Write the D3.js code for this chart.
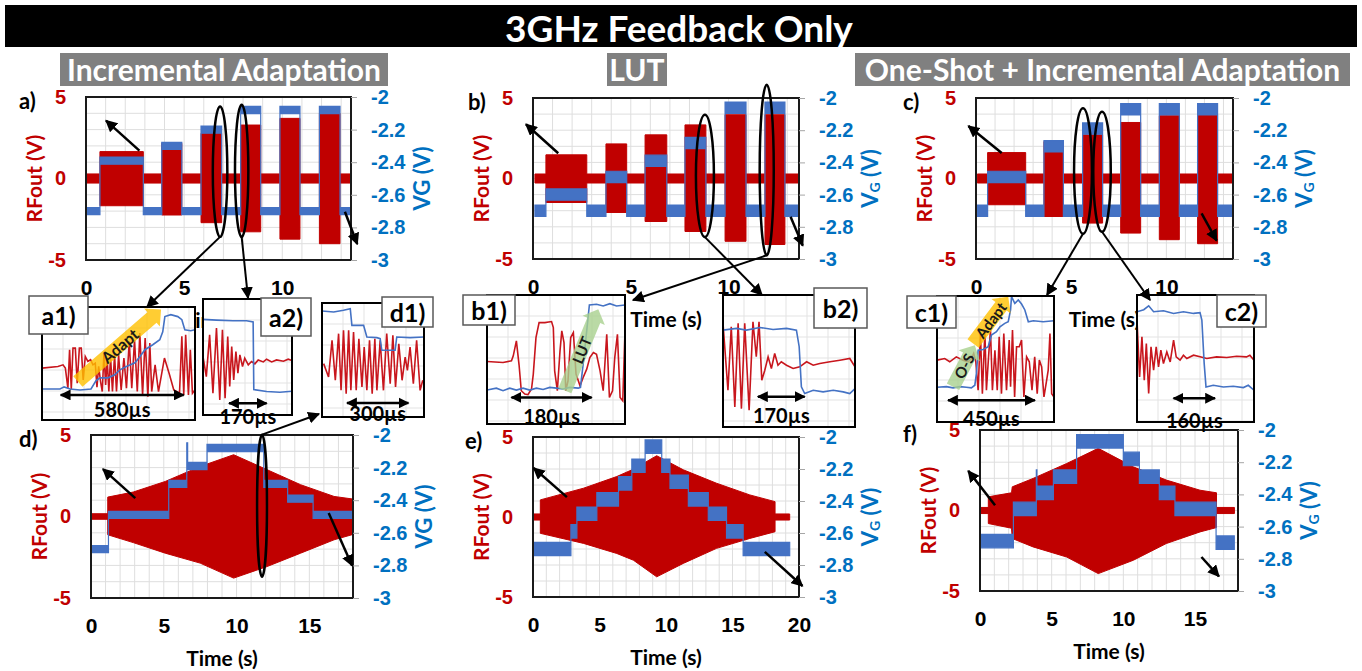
<!DOCTYPE html>
<html><head><meta charset="utf-8">
<script src="https://cdn.jsdelivr.net/npm/d3@7"></script>
<style>
  body { margin: 0; background: #fff; }
  svg { display: block; font-family: Lato, "Open Sans", sans-serif; font-weight: 700; }
</style></head>
<body>
<svg id="fig" width="1362" height="671"></svg>
<script>
// ---------- axis ticks ----------
const rfTicks = [-5, 0, 5];
const vgTicks = [-3, -2.8, -2.6, -2.4, -2.2, -2];
const timeTicksTop = [0, 5, 10];
const timeTicksD = [0, 5, 10, 15];
const timeTicksE = [0, 5, 10, 15, 20];
const timeTicksF = [0, 5, 10, 15];

// ---------- burst tests (a, b, c) ----------
// idle RF: [start s, end s, half-swing V]; idle VG: [start s, end s, VG V]
// bursts: [start s, end s, RF top V, RF bottom V, VG V]
const aRfIdle = [0, 13.5, 0.28];
const aVgIdle = [0, 13.5, -2.70];
const aBursts = [[0.71, 2.92, 1.65, -1.67, -2.39], [3.86, 4.88, 2.16, -2.24, -2.30], [5.86, 6.91, 2.77, -2.71, -2.20],
                 [7.88, 8.90, 3.28, -3.27, -2.08], [9.88, 10.9, 3.69, -3.72, -2.08], [11.89, 12.94, 4.0, -4.0, -2.08]];
const bRfIdle = [0.1, 13.6, 0.28];
const bVgIdle = [0.1, 13.6, -2.70];
const bBursts = [[0.66, 2.75, 1.47, -1.49, -2.60], [3.73, 4.79, 2.15, -2.11, -2.49], [5.73, 6.84, 2.71, -2.67, -2.39],
                 [7.77, 8.84, 3.33, -3.29, -2.28], [9.82, 10.89, 3.96, -3.90, -2.06], [11.86, 12.88, 3.96, -4.10, -2.06]];
const cRfIdle = [0.07, 13.5, 0.28];
const cVgIdle = [0.07, 13.5, -2.70];
const cBursts = [[0.61, 2.61, 1.61, -1.63, -2.49], [3.57, 4.59, 2.30, -2.36, -2.30], [5.60, 6.65, 2.71, -2.77, -2.19],
                 [7.60, 8.65, 3.48, -3.39, -2.07], [9.63, 10.68, 3.90, -3.80, -2.07], [11.64, 12.69, 3.96, -4.05, -2.07]];

// ---------- ramp tests (d, e, f) ----------
// idle RF: [start s, end s, half-swing V]; envelope: [t s, top V, bottom V]; gate: [start s, end s, VG V]
const dRfIdle = [[0, 1.15, 0.17]];
const dEnvelope = [[1.15, 1.19, -1.12], [2.9, 1.5, -1.6], [5.1, 2.15, -2.25], [7.5, 3.07, -2.86], [9.8, 3.79, -3.78],
                   [12.1, 2.87, -3.07], [14.4, 1.95, -2.25], [16.7, 1.23, -1.43], [18, 1.07, -1.1]];
const dGate = [[0, 1.2, -2.70], [1.2, 5.34, -2.49], [5.34, 6.58, -2.30], [6.58, 6.64, -2.07], [6.64, 7.97, -2.19],
               [7.97, 11.87, -2.08], [11.87, 13.51, -2.30], [13.51, 15.26, -2.39], [15.26, 18, -2.49]];
const eRfIdle = [[0, 0.55, 0.19], [18.2, 19.3, 0.19]];
const eEnvelope = [[0.55, 1.07, -1.02], [3.8, 1.8, -1.65], [6.3, 2.53, -2.28], [7.55, 2.99, -2.7], [9.3, 3.83, -3.74],
                   [11.3, 2.95, -2.9], [13.8, 2.11, -1.96], [16.3, 1.38, -1.34], [18.2, 0.96, -0.92]];
const eGate = [[0, 2.85, -2.70], [2.85, 3.3, -2.59], [3.3, 4.8, -2.48], [4.8, 6.43, -2.39], [6.43, 7.43, -2.29],
               [7.43, 8.43, -2.18], [8.43, 9.68, -2.06], [9.68, 10.3, -2.18], [10.3, 11.68, -2.28], [11.68, 13.18, -2.39],
               [13.18, 14.55, -2.48], [14.55, 15.8, -2.59], [15.8, 19.3, -2.70]];
const fRfIdle = [[0, 0.58, 0.19], [16.5, 17.75, 0.19]];
const fEnvelope = [[0.58, 0.85, -0.81], [2.2, 1.1, -1.1], [2.25, 1.47, -1.74], [3.7, 1.99, -2.26], [6.05, 2.92, -2.89],
                   [8.25, 3.86, -3.92], [10.7, 2.71, -3.09], [13, 1.89, -2.05], [15.35, 1.26, -1.33], [16.5, 1.1, -1.06]];
const fGate = [[0, 2.33, -2.69], [2.33, 3.93, -2.49], [3.93, 3.97, -2.29], [3.97, 5.12, -2.39], [5.12, 6.74, -2.29],
               [6.74, 10, -2.07], [10, 11.12, -2.18], [11.12, 12.51, -2.29], [12.51, 13.6, -2.39], [13.6, 16.47, -2.49],
               [16.47, 17.74, -2.70]];

// ---------- zoomed captures: [time µs, level % of screen] ----------
const a1Vg = [[0,27.5],[85,27.5],[104,29.3],[132,27.5],[179,26.6],[231,27.5],[254,34.6],[273,37.3],[311,37.3],[343,40],[367,44.4],[395,47.1],[438,50.6],[461,55.9],[485,62.2],[522,66.6],[555,71],[569,78.1],[579,91.5],[607,93.2],[640,91.5],[659,88.8],[673,79.9],[701,79],[721,79.9]];
const a1Rf = [[0,45.9],[75,47.4],[99,48.8],[110,45.9],[122,28.1],[130,62.2],[138,27.2],[146,63.6],[157,63.6],[166,32.6],[176,63.6],[185,63.6],[194,35.5],[204,56.2],[216,51.8],[229,53.3],[240,48.8],[251,50.3],[259,29],[267,47.4],[276,34],[284,25.2],[292,59.2],[300,31.1],[307,54.8],[315,25.2],[323,56.2],[332,25.2],[342,57.7],[351,25.2],[361,57.7],[373,26.6],[386,54.8],[398,28.1],[411,69.6],[423,28.1],[436,71],[449,25.2],[461,77],[474,22.2],[486,72.5],[499,20.7],[508,68.1],[517,25.2],[533,48.8],[549,25.2],[577,54.8],[601,40],[621,26.6],[648,23.7],[659,74],[668,22.2],[677,75.5],[690,22.2],[699,62.2],[709,23.7],[721,26.6]];
const a2Vg = [[0,82.4],[61,81.8],[136,81.2],[197,81.2],[227,80.3],[230,21.9],[288,20.2],[348,19.6],[403,20.5]];
const a2Rf = [[0,50.4],[15,33.1],[30,69.1],[45,18.7],[61,74.9],[76,13],[88,73.4],[100,14.4],[112,67.7],[121,24.5],[130,59],[139,30.2],[149,54.7],[158,36],[167,51.8],[179,41.8],[189,49],[205,43.2],[220,46.1],[235,44.1],[250,47.5],[273,45.8],[288,48.1],[311,45.8],[333,47.5],[364,46.4],[386,48.1],[403,46.9]];
const d1Vg = [[0,93],[57,92.1],[105,93.6],[138,95],[146,80.4],[203,80.4],[219,70.2],[268,69.6],[284,68.7],[292,58.5],[357,58.5],[365,70.2],[430,69.6],[498,70.2]];
const d1Rf = [[8,46.8],[32,35.1],[49,67.3],[65,32.2],[81,73.1],[93,23.4],[105,76],[118,20.5],[130,76],[141,23.4],[154,74.6],[167,23.4],[180,68.7],[195,26.3],[206,61.4],[219,23.4],[232,67.3],[245,20.5],[258,68.7],[268,23.4],[284,67.3],[300,23.4],[316,73.1],[333,29.2],[346,71.6],[359,26.3],[375,64.3],[391,32.2],[406,52.6],[417,40.9],[430,61.4],[446,29.2],[462,67.3],[479,23.4],[492,32.2]];
const b1Vg = [[0,26.3],[21,27.8],[36,25.8],[51,27.8],[66,26.3],[81,27.8],[96,26.3],[111,27.8],[126,26.8],[141,28.4],[156,27.8],[171,27.1],[186,28.4],[205,27.8],[210,28.4],[216,46.4],[224,72.2],[230,92.3],[246,92.8],[261,91.5],[276,93.3],[291,91.5],[310,92.3]];
const b1Rf = [[0,48.4],[36,47.7],[55,49],[59,52.8],[66,64.4],[72,45.9],[77,25.8],[85,23.2],[92,22.7],[100,27.1],[104,38.7],[110,67],[117,78.6],[130,78.6],[145,79.4],[149,74.7],[152,41.2],[158,25.8],[164,56.7],[168,72.2],[173,63.1],[177,25.8],[182,33.5],[188,67],[194,70.9],[200,38.7],[209,29.6],[216,36.1],[224,42.5],[231,51.5],[239,55.4],[246,54.1],[254,41.2],[261,25.8],[269,69.6],[275,20.6],[282,25.8],[287,51.5],[293,69.6],[299,20.6],[305,18],[310,72.2]];
const b2Vg = [[0,73.4],[49,74.7],[85,73.4],[134,75.4],[182,73.9],[231,74.7],[267,73.4],[277,60.8],[285,30.4],[297,25.3],[328,27.8],[364,26.6],[401,27.8],[437,26.6],[461,25.3],[480,29.1]];
const b2Rf = [[0,78.5],[18,27.8],[30,75.9],[43,15.2],[55,78.5],[67,13.9],[79,78.5],[95,12.7],[109,79.7],[121,53.2],[131,79.7],[141,35.4],[152,43],[164,53.2],[176,44.3],[188,55.7],[200,46.8],[212,49.4],[231,46.8],[255,44.3],[279,45.6],[304,49.4],[328,46.8],[352,48.1],[389,49.4],[425,50.6],[461,51.9],[480,45.6]];
const c1Vg = [[0,27.6],[49,28.1],[83,27.1],[118,28.1],[152,27.6],[178,27.1],[196,29.2],[204,38.5],[213,57],[239,57.6],[265,59.7],[282,69],[308,71.6],[326,75.6],[351,78.3],[369,79.6],[381,88.9],[386,99.5],[403,94.2],[421,96.8],[438,93.6],[455,88.9],[473,79.6],[499,80.4],[550,79.6],[606,80.4]];
const c1Rf = [[0,49.1],[40,50.4],[66,47.8],[100,51.7],[135,49.1],[161,47.8],[178,50.4],[190,54.4],[201,47.8],[213,25.2],[225,70.3],[235,22.5],[248,71.6],[256,25.2],[267,51.7],[277,73],[287,25.2],[300,57],[312,25.2],[322,67.7],[334,22.5],[346,70.3],[360,25.2],[374,65],[381,27.9],[391,73],[402,19.9],[412,59.7],[426,59.7],[438,65],[450,19.9],[464,51.7],[478,47.8],[492,25.2],[506,51.7],[519,22.5],[530,49.1],[542,43.8],[554,19.9],[568,33.2],[576,41.1],[585,70.3],[594,22.5],[606,19.9]];
const c2Vg = [[0,86.8],[26,88.4],[45,91.5],[64,86.8],[102,87.6],[141,85.5],[179,86.8],[218,85.5],[243,86.1],[250,80.3],[259,46],[266,27.6],[294,28.9],[333,27.6],[371,28.1],[410,27.1],[429,28.9],[451,25]];
const c2Rf = [[0,80.2],[10,35.5],[19,67.1],[28,32.9],[36,61.8],[45,22.4],[54,59.2],[64,40.8],[74,59.2],[83,43.4],[92,56.6],[102,46],[115,55.2],[128,47.3],[141,64.4],[151,51.3],[166,48.7],[179,52.6],[192,50],[218,52.6],[243,51.3],[269,50],[307,51.3],[346,50.8],[384,51.8],[422,51.3],[435,52.6],[451,48.7]];
// settling spans: [start µs, duration µs]
const a1Span = [88, 580], a2Span = [118, 170], d1Span = [122, 300];
const b1Span = [55, 180], b2Span = [127, 170], c1Span = [57, 450], c2Span = [141, 160];

// ---------- helpers ----------
const RED = "#c00000", BLUE = "#4472c4", RED_TXT = "#c00000", BLUE_TXT = "#0070c0";
const svg = d3.select("#fig");
const defs = svg.append("defs");
function addMarker(id, size) {
  defs.append("marker").attr("id", id).attr("viewBox", "0 0 10 10").attr("refX", 9).attr("refY", 5)
    .attr("markerWidth", size).attr("markerHeight", size).attr("markerUnits", "userSpaceOnUse")
    .attr("orient", "auto-start-reverse")
    .append("path").attr("d", "M0,0L10,5L0,10z").attr("fill", "#000");
}
addMarker("head", 12);
addMarker("headS", 11);

function burstRf(idle, bursts) {
  const pts = []; let t = idle[0]; const a = idle[2];
  bursts.forEach(b => {
    pts.push({t, hi: a, lo: -a}, {t: b[0], hi: a, lo: -a}, {t: b[0], hi: b[2], lo: b[3]}, {t: b[1], hi: b[2], lo: b[3]});
    t = b[1];
  });
  pts.push({t, hi: a, lo: -a}, {t: idle[1], hi: a, lo: -a});
  return [pts];
}
function burstVg(idle, bursts) {
  const pts = []; let t = idle[0];
  bursts.forEach(b => {
    pts.push({t, v: idle[2]}, {t: b[0], v: idle[2]}, {t: b[0], v: b[4]}, {t: b[1], v: b[4]});
    t = b[1];
  });
  pts.push({t, v: idle[2]}, {t: idle[1], v: idle[2]});
  return pts;
}
function rampRf(idle, env) {
  const pieces = idle.map(s => [{t: s[0], hi: s[2], lo: -s[2]}, {t: s[1], hi: s[2], lo: -s[2]}]);
  pieces.push(env.map(e => ({t: e[0], hi: e[1], lo: e[2]})));
  return pieces;
}
function stepVg(segs) { return segs.flatMap(s => [{t: s[0], v: s[2]}, {t: s[1], v: s[2]}]); }

const panels = [
  {key: "a", letter: "a)", letterX: 19, box: [86, 97, 351, 260], tmax: 13.5, tTicks: timeTicksTop, sub: false, vgHalf: 0.022,
   rf: burstRf(aRfIdle, aBursts), vg: burstVg(aVgIdle, aBursts),
   rings: [[6.83, 0.42, 0.37, 4.0, "bottom", [147, 307]], [7.93, 0.47, 0.34, 4.05, "bottom", [248, 298]]],
   pointers: [[2.72, 1.71, 1.02, 3.55], [13.19, -2.04, 13.82, -4.02]]},
  {key: "b", letter: "b)", letterX: 468, box: [533, 98, 799, 259], tmax: 13.6, tTicks: timeTicksTop, sub: true, vgHalf: 0.035,
   rf: burstRf(bRfIdle, bBursts), vg: burstVg(bVgIdle, bBursts),
   rings: [[8.79, 0.16, 0.46, 3.8, "bottom", [762, 295]], [11.95, 0.53, 0.36, 5.3, "bottom", [633, 300]]],
   pointers: [[1.29, 1.57, -0.36, 3.37], [13.17, -2.37, 13.79, -4.17]]},
  {key: "c", letter: "c)", letterX: 903, box: [976, 98, 1233, 259], tmax: 13.5, tTicks: timeTicksTop, sub: true, vgHalf: 0.035,
   rf: burstRf(cRfIdle, cBursts), vg: burstVg(cVgIdle, cBursts),
   rings: [[5.62, 0.47, 0.47, 3.9, "bottom", [1047, 295]], [6.62, 0.42, 0.46, 3.73, "bottom", [1150, 300]]],
   pointers: [[1.35, 1.58, -0.4, 3.26], [11.85, -2.16, 12.64, -3.86]]},
  {key: "d", letter: "d)", letterX: 19, box: [91, 435, 353, 598], tmax: 18, tTicks: timeTicksD, sub: false, vgHalf: 0.022,
   rf: rampRf(dRfIdle, dEnvelope), vg: stepVg(dGate),
   rings: [[11.75, 0.66, 0.34, 4.36, "top", [319, 414]]],
   pointers: [[3.04, 1.13, 0.82, 2.91], [16.33, 0.21, 17.94, -3.02]]},
  {key: "e", letter: "e)", letterX: 465, box: [533, 437, 799, 597], tmax: 20, tTicks: timeTicksE, sub: true, vgHalf: 0.042,
   rf: rampRf(eRfIdle, eEnvelope), vg: stepVg(eGate), rings: [],
   pointers: [[2.55, 1.24, 0.05, 3.06], [17.43, -2.18, 20.26, -4.31]]},
  {key: "f", letter: "f)", letterX: 903, box: [980, 430, 1238, 591], tmax: 18, tTicks: timeTicksF, sub: true, vgHalf: 0.042,
   rf: rampRf(fRfIdle, fEnvelope), vg: stepVg(fGate), rings: [],
   pointers: [[1.05, 0.33, -0.82, 2.46], [15.45, -2.89, 16.67, -4.09]]}
];

const insets = [
  {key: "a1", box: [42, 307, 195, 420], tmax: 721, red: a1Rf, blue: a1Vg, span: a1Span, spanV: 22.2, labDy: 14,
   label: "a1)", labelBox: [29, 296, 88, 334],
   fat: [{from: [169, 34], to: [561, 97.7], fill: "#ffc000", text: "Adapt", size: 16}]},
  {key: "a2", box: [203, 299, 292, 415], tmax: 403, red: a2Rf, blue: a2Vg, span: a2Span, spanV: 10.1, labDy: 13,
   label: "a2)", labelBox: [261, 298, 311, 336], fat: []},
  {key: "d1", box: [322, 303, 424, 417], tmax: 498, red: d1Rf, blue: d1Vg, span: d1Span, spanV: 12.3, labDy: 10,
   label: "d1)", labelBox: [382, 297, 433, 327], fat: []},
  {key: "b1", box: [487, 295, 625, 424], tmax: 310, red: b1Rf, blue: b1Vg, span: b1Span, spanV: 20.6, labDy: 19,
   label: "b1)", labelBox: [463, 295, 515, 325],
   fat: [{from: [175, 25.8], to: [250, 88.9], fill: "#a9d18e", text: "LUT", size: 15}]},
  {key: "b2", box: [723, 295, 855, 427], tmax: 480, red: b2Rf, blue: b2Vg, span: b2Span, spanV: 23, labDy: 18,
   label: "b2)", labelBox: [814, 288, 867, 328], fat: []},
  {key: "c1", box: [937, 296, 1054, 422], tmax: 606, red: c1Rf, blue: c1Vg, span: c1Span, spanV: 17.3, labDy: 18,
   label: "c1)", labelBox: [907, 296, 956, 328],
   fat: [{from: [83, 28], to: [196, 61], fill: "#a9d18e", text: "O-S", size: 15},
         {from: [187, 62.3], to: [369, 99.5], fill: "#ffc000", text: "Adapt", size: 15}]},
  {key: "c2", box: [1137, 295, 1254, 422], tmax: 451, red: c2Rf, blue: c2Vg, span: c2Span, spanV: 18.7, labDy: 22,
   label: "c2)", labelBox: [1217, 295, 1266, 327], fat: []}
];

// ---------- heading ----------
svg.append("rect").attr("x", 5).attr("y", 5).attr("width", 1352).attr("height", 42).attr("fill", "#000");
svg.append("text").attr("x", 679).attr("y", 27).attr("text-anchor", "middle").attr("dominant-baseline", "central")
  .attr("fill", "#fff").attr("font-size", 37).text("3GHz Feedback Only");
[[60, 388, "Incremental Adaptation"], [607, 667, "LUT"], [855, 1350, "One-Shot + Incremental Adaptation"]].forEach(([x0, x1, t]) => {
  svg.append("rect").attr("x", x0).attr("y", 53).attr("width", x1 - x0).attr("height", 33).attr("fill", "#808080");
  svg.append("text").attr("x", (x0 + x1) / 2).attr("y", 69).attr("text-anchor", "middle").attr("dominant-baseline", "central")
    .attr("fill", "#fff").attr("font-size", 30).text(t);
});

// ---------- main panels ----------
const connectors = [];
panels.forEach(p => {
  const [x0, y0, x1, y1] = p.box;
  const x = d3.scaleLinear().domain([0, p.tmax]).range([x0, x1]);
  const rf = d3.scaleLinear().domain([-5, 5]).range([y1, y0]);
  const vg = d3.scaleLinear().domain([-3, -2]).range([y1, y0]);
  const g = svg.append("g").attr("class", "panel-" + p.key);
  defs.append("clipPath").attr("id", "clip-" + p.key).append("rect")
    .attr("x", x0).attr("y", y0).attr("width", x1 - x0).attr("height", y1 - y0);

  g.append("rect").attr("x", x0).attr("y", y0).attr("width", x1 - x0).attr("height", y1 - y0).attr("fill", "#fff");
  const grid = g.append("g").attr("stroke", "#dedede").attr("stroke-width", 1);
  grid.selectAll(".gx").data(d3.range(1, Math.ceil(p.tmax))).join("line")
    .attr("x1", d => x(d)).attr("x2", d => x(d)).attr("y1", y0).attr("y2", y1);
  grid.selectAll(".gy").data(d3.range(-4, 5)).join("line")
    .attr("x1", x0).attr("x2", x1).attr("y1", d => rf(d)).attr("y2", d => rf(d));

  const plot = g.append("g").attr("clip-path", `url(#clip-${p.key})`);
  const rfArea = d3.area().x(d => x(d.t)).y0(d => rf(d.lo)).y1(d => rf(d.hi));
  plot.selectAll(".rf").data(p.rf).join("path").attr("d", rfArea)
    .attr("fill", RED).attr("stroke", RED).attr("stroke-width", 1);
  const vgArea = d3.area().x(d => x(d.t)).y0(d => vg(d.v - p.vgHalf)).y1(d => vg(d.v + p.vgHalf));
  plot.append("path").datum(p.vg).attr("d", vgArea).attr("fill", BLUE).attr("stroke", BLUE).attr("stroke-width", 1.2);

  g.append("rect").attr("x", x0).attr("y", y0).attr("width", x1 - x0).attr("height", y1 - y0)
    .attr("fill", "none").attr("stroke", "#1a1a1a").attr("stroke-width", 2);

  // axes
  const ax = g.append("g").attr("transform", `translate(${x0},0)`)
    .call(d3.axisLeft(rf).tickValues(rfTicks).tickSize(0).tickPadding(20).tickFormat(String));
  ax.select(".domain").remove();
  ax.selectAll("text").attr("fill", RED_TXT).attr("font-size", 20).attr("font-family", null).attr("font-weight", 700);
  const ay = g.append("g").attr("transform", `translate(${x1},0)`)
    .call(d3.axisRight(vg).tickValues(vgTicks).tickSize(6).tickPadding(14).tickFormat(String));
  ay.select(".domain").remove();
  ay.selectAll("line").attr("stroke", "#a6a6a6");
  ay.selectAll("text").attr("fill", BLUE_TXT).attr("font-size", 20).attr("font-family", null).attr("font-weight", 700);
  const axb = g.append("g").attr("transform", `translate(0,${y1})`)
    .call(d3.axisBottom(x).tickValues(p.tTicks).tickSize(0).tickPadding(20).tickFormat(String));
  axb.select(".domain").remove();
  axb.selectAll("text").attr("fill", "#000").attr("font-size", 21).attr("font-family", null).attr("font-weight", 700);

  g.append("text").attr("x", (x0 + x1) / 2).attr("y", y1 + 59).attr("text-anchor", "middle")
    .attr("dominant-baseline", "central").attr("font-size", 21).text("Time (s)");
  g.append("text").attr("transform", `translate(${x0 - 53},${(y0 + y1) / 2}) rotate(-90)`)
    .attr("text-anchor", "middle").attr("dominant-baseline", "central").attr("fill", RED_TXT).attr("font-size", 21)
    .text("RFout (V)");
  const vt = g.append("text").attr("transform", `translate(${x1 + 70},${(y0 + y1) / 2}) rotate(-90)`)
    .attr("text-anchor", "middle").attr("dominant-baseline", "central").attr("fill", BLUE_TXT).attr("font-size", 22);
  if (p.sub) {
    vt.append("tspan").text("V");
    vt.append("tspan").attr("font-size", 14).attr("dy", 5).text("G");
    vt.append("tspan").attr("dy", -5).text(" (V)");
  } else vt.text("VG (V)");
  g.append("text").attr("x", p.letterX).attr("y", y0 + 3).attr("dominant-baseline", "central")
    .attr("font-size", 22).attr("fill", "#000").text(p.letter);

  // callouts
  p.pointers.forEach(q => {
    g.append("line").attr("x1", x(q[0])).attr("y1", rf(q[1])).attr("x2", x(q[2])).attr("y2", rf(q[3]))
      .attr("stroke", "#000").attr("stroke-width", 2.5).attr("marker-end", "url(#head)");
  });
  p.rings.forEach(r => {
    const cx = x(r[0]), cy = rf(r[1]);
    const rx = x(r[0] + r[2]) - cx, ry = cy - rf(r[1] + r[3]);
    g.append("ellipse").attr("cx", cx).attr("cy", cy).attr("rx", rx).attr("ry", ry)
      .attr("fill", "none").attr("stroke", "#000").attr("stroke-width", 2.5);
    connectors.push([cx, r[4] === "bottom" ? cy + ry : cy - ry, r[5][0], r[5][1]]);
  });
});

// ---------- zoomed captures ----------
function fatArrow(p1, p2, w, hw, hl) {
  const dx = p2[0] - p1[0], dy = p2[1] - p1[1], L = Math.hypot(dx, dy);
  const ux = dx / L, uy = dy / L, nx = -uy, ny = ux;
  const bx = p2[0] - ux * hl, by = p2[1] - uy * hl;
  const pts = [[p1[0] + nx * w, p1[1] + ny * w], [bx + nx * w, by + ny * w], [bx + nx * hw, by + ny * hw], p2,
               [bx - nx * hw, by - ny * hw], [bx - nx * w, by - ny * w], [p1[0] - nx * w, p1[1] - ny * w]];
  return "M" + pts.map(p => p.join(",")).join("L") + "Z";
}
insets.forEach(s => {
  const [x0, y0, x1, y1] = s.box;
  const x = d3.scaleLinear().domain([0, s.tmax]).range([x0, x1]);
  const y = d3.scaleLinear().domain([0, 100]).range([y1, y0]);
  const g = svg.append("g").attr("class", "inset-" + s.key);
  defs.append("clipPath").attr("id", "clip-" + s.key).append("rect")
    .attr("x", x0).attr("y", y0).attr("width", x1 - x0).attr("height", y1 - y0);
  g.append("rect").attr("x", x0).attr("y", y0).attr("width", x1 - x0).attr("height", y1 - y0).attr("fill", "#fff");
  const inner = g.append("g").attr("clip-path", `url(#clip-${s.key})`);
  const grid = inner.append("g").attr("stroke", "#e3e3e3").attr("stroke-width", 1);
  grid.selectAll(".gx").data(d3.range(x0 + 21, x1, 21)).join("line")
    .attr("x1", d => d).attr("x2", d => d).attr("y1", y0).attr("y2", y1);
  grid.selectAll(".gy").data(d3.range(y0 + 21, y1, 21)).join("line")
    .attr("x1", x0).attr("x2", x1).attr("y1", d => d).attr("y2", d => d);
  const line = d3.line().x(d => x(d[0])).y(d => y(d[1]));
  inner.append("path").datum(s.red).attr("d", line).attr("fill", "none").attr("stroke", "#c8161d").attr("stroke-width", 1.6);
  inner.append("path").datum(s.blue).attr("d", line).attr("fill", "none").attr("stroke", "#4472c4").attr("stroke-width", 1.6);
  s.fat.forEach(f => {
    const p1 = [x(f.from[0]), y(f.from[1])], p2 = [x(f.to[0]), y(f.to[1])];
    inner.append("path").attr("d", fatArrow(p1, p2, 7, 12, 12)).attr("fill", f.fill).attr("fill-opacity", 0.8);
    const ang = Math.atan2(p2[1] - p1[1], p2[0] - p1[0]) * 180 / Math.PI;
    const mx = (p1[0] + p2[0]) / 2, my = (p1[1] + p2[1]) / 2;
    inner.append("text").attr("transform", `translate(${mx},${my}) rotate(${ang})`)
      .attr("text-anchor", "middle").attr("dominant-baseline", "central").attr("font-size", f.size).attr("fill", "#1a1a1a")
      .text(f.text);
  });
  g.append("rect").attr("x", x0).attr("y", y0).attr("width", x1 - x0).attr("height", y1 - y0)
    .attr("fill", "none").attr("stroke", "#000").attr("stroke-width", 2);
  // settling-time span
  const sy = y(s.spanV);
  g.append("line").attr("x1", x(s.span[0])).attr("x2", x(s.span[0] + s.span[1])).attr("y1", sy).attr("y2", sy)
    .attr("stroke", "#000").attr("stroke-width", 2.5)
    .attr("marker-start", "url(#headS)").attr("marker-end", "url(#headS)");
  g.append("text").attr("x", x(s.span[0] + s.span[1] / 2)).attr("y", sy + s.labDy).attr("text-anchor", "middle")
    .attr("dominant-baseline", "central").attr("font-size", 20).attr("fill", "#000").text(s.span[1] + "µs");
});
insets.forEach(s => {
  const [x0, y0, x1, y1] = s.labelBox;
  svg.append("rect").attr("x", x0).attr("y", y0).attr("width", x1 - x0).attr("height", y1 - y0)
    .attr("fill", "#fff").attr("stroke", "#595959").attr("stroke-width", 1.5);
  svg.append("text").attr("x", (x0 + x1) / 2).attr("y", (y0 + y1) / 2).attr("text-anchor", "middle")
    .attr("dominant-baseline", "central").attr("font-size", 25).attr("fill", "#000").text(s.label);
});

// ---------- connectors from the circled events to their captures ----------
connectors.forEach(c => {
  svg.append("line").attr("x1", c[0]).attr("y1", c[1]).attr("x2", c[2]).attr("y2", c[3])
    .attr("stroke", "#000").attr("stroke-width", 2).attr("marker-end", "url(#head)");
});
</script>
</body></html>
